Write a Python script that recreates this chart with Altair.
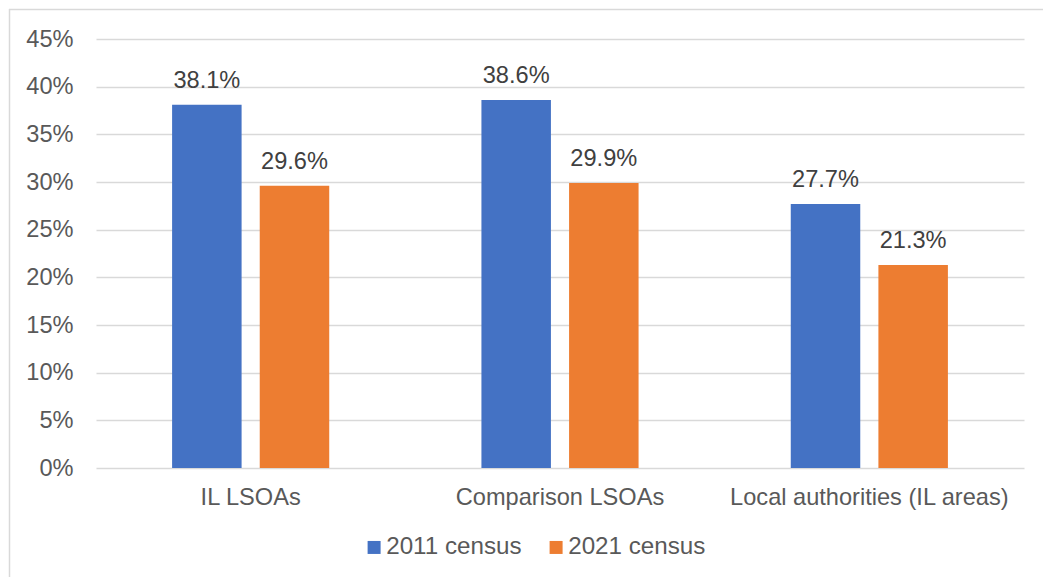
import altair as alt
import pandas as pd

areas = ["IL LSOAs", "Comparison LSOAs", "Local authorities (IL areas)"]
census_2011 = [0.381, 0.386, 0.277]
census_2021 = [0.296, 0.299, 0.213]
series = ["2011 census", "2021 census"]
colors = ["#4472C4", "#ED7D31"]
y_ticks = [0, 0.05, 0.10, 0.15, 0.20, 0.25, 0.30, 0.35, 0.40, 0.45]

rows = []
for a, v1, v2 in zip(areas, census_2011, census_2021):
    rows.append({"area": a, "series": series[0], "value": v1})
    rows.append({"area": a, "series": series[1], "value": v2})
df = pd.DataFrame(rows)

FONT = "Liberation Sans"
FS = 23.6

base = alt.Chart(df).encode(
    x=alt.X("area:N", sort=areas,
            scale=alt.Scale(paddingInner=0.492, paddingOuter=0.246),
            axis=alt.Axis(title=None, labelAngle=0, ticks=False, domain=False,
                          labelPadding=17, labelFontSize=FS, labelFont=FONT,
                          labelColor="#595959", labelLimit=400)),
    xOffset=alt.XOffset("series:N", sort=series,
                        scale=alt.Scale(paddingInner=0.207, paddingOuter=0)),
)

bars = base.mark_bar().encode(
    y=alt.Y("value:Q",
            scale=alt.Scale(domain=[0, 0.45], nice=False),
            axis=alt.Axis(title=None, format=".0%", values=y_ticks, ticks=False,
                          domain=False, labelPadding=23, labelFontSize=FS,
                          labelFont=FONT, labelColor="#595959",
                          gridColor="#d9d9d9", gridWidth=1.3)),
    color=alt.Color("series:N", sort=series,
                    scale=alt.Scale(domain=series, range=colors),
                    legend=alt.Legend(title=None, orient="none", direction="horizontal",
                                      legendX=266, legendY=496, padding=0,
                                      symbolType="square", symbolSize=169,
                                      symbolStrokeWidth=0, labelFontSize=24.2,
                                      labelFont=FONT, labelColor="#595959",
                                      labelOffset=0, columnPadding=22)),
)

labels = base.mark_text(baseline="alphabetic", dy=-16.8, fontSize=FS, font=FONT,
                        color="#404040").encode(
    y=alt.Y("value:Q"),
    text=alt.Text("value:Q", format=".1%"),
)

border_df = pd.DataFrame({"k": [0]})
top_border = alt.Chart(border_df).mark_rule(color="#d9d9d9", strokeWidth=1.5).encode(
    x=alt.value(-87), x2=alt.value(947), y=alt.value(-29.5))
left_border = alt.Chart(border_df).mark_rule(color="#d9d9d9", strokeWidth=1.5).encode(
    x=alt.value(-86.5), y=alt.value(-30), y2=alt.value(538))

chart = alt.layer(bars, labels, top_border, left_border).properties(
    width=928, height=429,
    autosize=alt.AutoSizeParams(type="none"),
    padding={"left": 96, "top": 39, "right": 19, "bottom": 109},
    background="white",
).configure_view(stroke=None)

chart.save("out.html", embed_options={"renderer": "svg", "actions": False})
